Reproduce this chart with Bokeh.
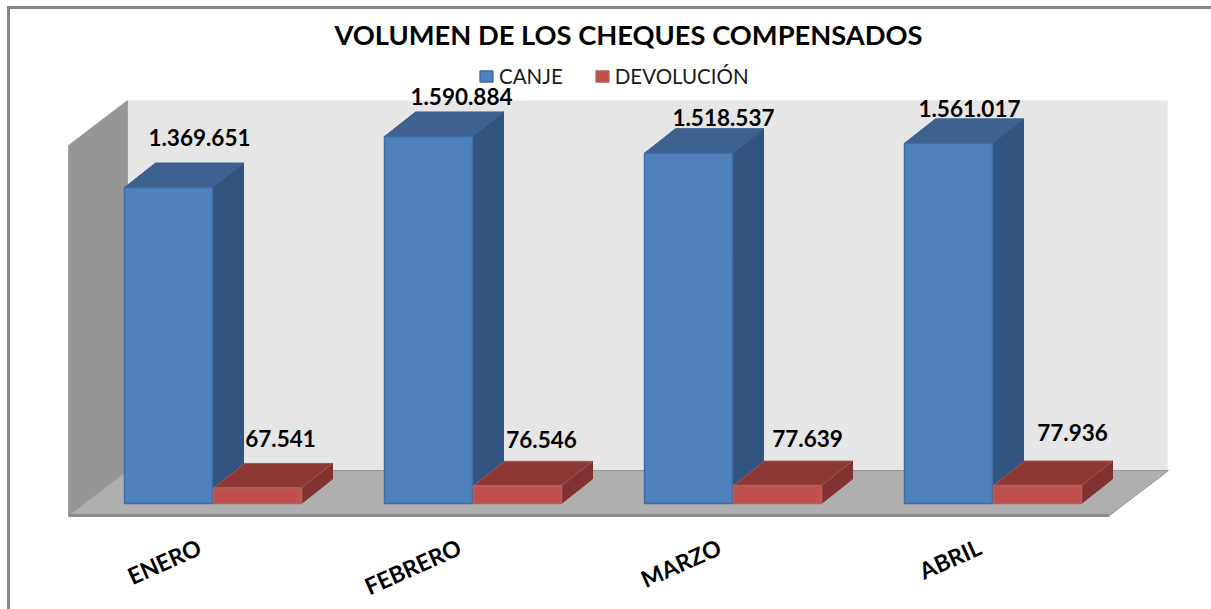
from bokeh.plotting import figure
from bokeh.embed import file_html
from bokeh.resources import INLINE
from bokeh.core.properties import value
from bokeh.models import ColumnDataSource, Legend, LegendItem, FixedTicker, Range1d, Title

# ---- data ----
months = ["ENERO", "FEBRERO", "MARZO", "ABRIL"]
canje = [1369651, 1590884, 1518537, 1561017]
devolucion = [67541, 76546, 77639, 77936]
canje_labels = ["1.369.651", "1.590.884", "1.518.537", "1.561.017"]
devolucion_labels = ["67.541", "76.546", "77.639", "77.936"]
title_text = "VOLUMEN DE LOS CHEQUES COMPENSADOS"
series_names = ["CANJE", "DEVOLUCIÓN"]

# ---- scales (reference px -> data) ----
W, H = 1211, 609
PX_PER_CAT = 260.0
VAL_PER_PX = 1369651 / 316.0
ORIGIN_X = 199.0        # reference px of category 0 tick
ORIGIN_Y = 503.0        # reference px of value 0
FRAME_TOP, FRAME_BOTTOM = 50, H
FONT = "Lato"

def dx(px):
    return px / PX_PER_CAT

def dy(px):
    return px * VAL_PER_PX

def X(px):
    return (px - ORIGIN_X) / PX_PER_CAT

def Y(py):
    return (ORIGIN_Y - py) * VAL_PER_PX

p = figure(width=W, height=H, output_backend="svg", toolbar_location=None,
           x_range=Range1d(X(0), X(W)), y_range=Range1d(Y(FRAME_BOTTOM), Y(FRAME_TOP)),
           min_border_left=0, min_border_right=0,
           min_border_top=FRAME_TOP, min_border_bottom=0,
           background_fill_alpha=0, border_fill_alpha=0, outline_line_color=None)
p.grid.visible = False
p.yaxis.visible = False

# ---- outer frame of the picture, behind the transparent canvas ----
p.styles = {
    "background-color": "white",
    "background-image": "linear-gradient(#868686,#868686),linear-gradient(#868686,#868686)",
    "background-size": "1204px 3px, 3px 603px",
    "background-position": "7px 6px, 7px 6px",
    "background-repeat": "no-repeat",
}

# ---- chart box: back wall, side wall, floor ----
p.patch([X(127), X(1167), X(1167), X(127)], [Y(100), Y(100), Y(470), Y(470)],
        fill_color="#E6E6E6", line_color="#EFEFEF", line_width=1)
p.patch([X(68), X(127), X(127), X(68)], [Y(145), Y(100), Y(470), Y(515)],
        fill_color="#969696", line_color="#A0A0A0", line_width=1)
p.patch([X(68), X(127), X(1168), X(1109)], [Y(515), Y(470), Y(470), Y(515)],
        fill_color="#AFAFAF", line_color="#969696", line_width=1)
p.line([X(68), X(1109)], [Y(515), Y(515)], line_color="#8C8C8C", line_width=3)

# ---- bars ----
BAR_W = 88.0
DEPTH_X, DEPTH_Y = 31.0, 24.5
BLUE_OFFSET = 124 - ORIGIN_X
RED_OFFSET = 213 - ORIGIN_X

def faces(values, offset):
    front_x, front_y, top_x, top_y, side_x, side_y = [], [], [], [], [], []
    for i, v in enumerate(values):
        x0 = i + dx(offset)
        x1 = x0 + dx(BAR_W)
        ox, oy = dx(DEPTH_X), dy(DEPTH_Y)
        front_x.append([x0, x1, x1, x0])
        front_y.append([0, 0, v, v])
        top_x.append([x0, x1, x1 + ox, x0 + ox])
        top_y.append([v, v, v + oy, v + oy])
        side_x.append([x1, x1 + ox, x1 + ox, x1])
        side_y.append([0, oy, v + oy, v])
    return front_x, front_y, top_x, top_y, side_x, side_y

def draw(values, offset, c_front, c_front_line, c_top, c_top_line, c_side):
    fx, fy, tx, ty, sx, sy = faces(values, offset)
    p.patches(sx, sy, fill_color=c_side, line_color=c_side, line_width=1)
    p.patches(tx, ty, fill_color=c_top, line_color=c_top_line, line_width=1)
    return p.patches(fx, fy, fill_color=c_front, line_color=c_front_line, line_width=1.5)

r_canje = draw(canje, BLUE_OFFSET, "#4F81BD", "#3F6DA6", "#3D6290", "#3D6290", "#325480")
r_dev = draw(devolucion, RED_OFFSET, "#C0504D", "#B0605E", "#8E3836", "#A25654", "#823230")

# ---- data labels (offsets from the bar's front top corner) ----
canje_dx = [75, 77, 79, 65]
canje_dy = [50, 40, 36, 35]
dev_dx = [67, 68, 74, 79]
dev_dy = [49, 46, 47, 53]
lx = [i + dx(BLUE_OFFSET + o) for i, o in enumerate(canje_dx)] + [i + dx(RED_OFFSET + o) for i, o in enumerate(dev_dx)]
ly = [v + dy(o) for v, o in zip(canje, canje_dy)] + [v + dy(o) for v, o in zip(devolucion, dev_dy)]
src = ColumnDataSource(dict(x=lx, y=ly, t=canje_labels + devolucion_labels))
p.text("x", "y", text="t", source=src, text_font=value(FONT), text_font_style="bold",
       text_font_size="22.5px", text_color="#000000", text_align="center", text_baseline="middle")

# ---- category axis ----
ax = p.xaxis[0]
ax.fixed_location = Y(517)
ax.ticker = FixedTicker(ticks=list(range(len(months))))
ax.major_label_overrides = {i: m for i, m in enumerate(months)}
ax.major_label_orientation = 0.42
ax.major_label_text_font = FONT
ax.major_label_text_font_style = "bold"
ax.major_label_text_font_size = "23px"
ax.major_label_text_color = "#000000"
ax.major_label_standoff = 22
ax.axis_line_color = None
ax.major_tick_line_color = None
ax.minor_tick_line_color = None

# ---- legend ----
legend = Legend(items=[LegendItem(label=value(series_names[0]), renderers=[r_canje]),
                       LegendItem(label=value(series_names[1]), renderers=[r_dev])],
                orientation="horizontal", location=(478, H - 88),
                background_fill_alpha=0, border_line_color=None, padding=0, margin=0, spacing=31,
                glyph_width=16, glyph_height=14, label_standoff=5,
                label_text_font=FONT, label_text_font_size="20.5px", label_text_color="#1A1A1A")
p.add_layout(legend, "center")

# ---- title ----
p.title = Title(text=title_text, text_font=FONT, text_font_style="bold", text_font_size="27.3px",
                text_color="#000000", align="left", offset=334, standoff=0)

open("out.html", "w").write(file_html(p, INLINE))
